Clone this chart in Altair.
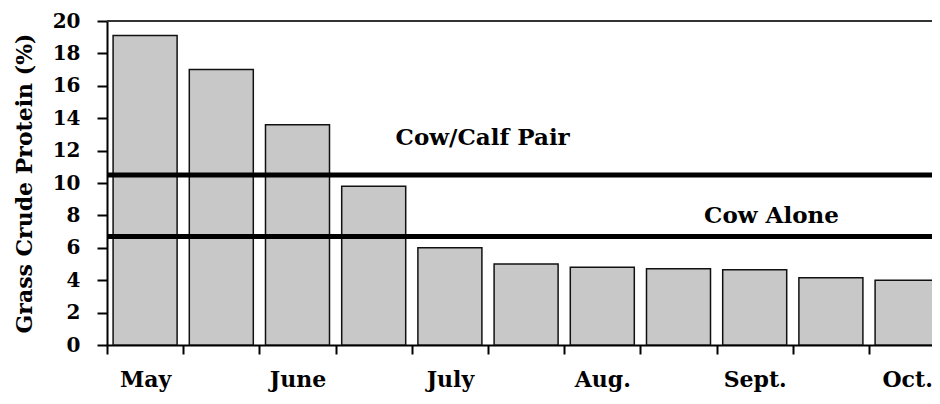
import altair as alt
import pandas as pd

# ---- data ----
periods = list(range(11))
protein = [19.1, 17.0, 13.6, 9.8, 6.0, 5.0, 4.8, 4.7, 4.65, 4.15, 4.0]
month_names = ["May", "June", "July", "Aug.", "Sept.", "Oct."]
requirement_levels = [10.5, 6.7]
requirement_labels = ["Cow/Calf Pair", "Cow Alone"]
y_ticks = list(range(0, 21, 2))
x_ticks = list(range(11))
y_title = "Grass Crude Protein (%)"

bars_df = pd.DataFrame({"period": periods, "protein": protein})
req_df = pd.DataFrame({"level": requirement_levels, "label": requirement_labels})
top_df = pd.DataFrame({"v": [y_ticks[-1]]})

FONT = "DejaVu Serif"
W = 825
H = 324
BAND = 76.2
X_MAX = W / BAND

label_arr = [month_names[i // 2] if i % 2 == 0 else "" for i in x_ticks]
label_expr = "[" + ",".join(f"'{s}'" for s in label_arr) + "][round(datum.value)]"

x_scale = alt.Scale(domain=[0, X_MAX], nice=False, zero=False)
y_scale = alt.Scale(domain=[0, 20], nice=False)

x_axis = alt.Axis(
    values=x_ticks, labelExpr=label_expr, labelOffset=BAND / 2, labelAlign="center",
    labelBaseline="alphabetic", labelPadding=32, tickSize=9, labelFontSize=22,
    labelFont=FONT, labelFontWeight="bold", labelColor="black",
    labelOverlap=False, labelFlush=False, grid=False,
    domainColor="black", domainWidth=2, tickColor="black", tickWidth=2,
)
y_axis = alt.Axis(
    values=y_ticks, tickSize=10, labelPadding=17, labelFontSize=20,
    labelFont=FONT, labelFontWeight="bold", labelColor="black",
    titleFont=FONT, titleFontSize=22, titleFontWeight="bold", titleColor="black",
    titlePadding=16, grid=False, labelOverlap=False, labelFlush=False,
    domainColor="black", domainWidth=2, tickColor="black", tickWidth=2,
)

bars = alt.Chart(bars_df).transform_calculate(
    x0="datum.period + 0.08", x1="datum.period + 0.92"
).mark_bar(fill="#c8c8c8", stroke="#111111", strokeWidth=1.5, clip=True).encode(
    x=alt.X("x0:Q", scale=x_scale, axis=x_axis, title=None),
    x2="x1:Q",
    y=alt.Y("protein:Q", scale=y_scale, axis=y_axis, title=y_title),
    y2=alt.datum(0),
)

top_line = alt.Chart(top_df).mark_rule(color="#333333", strokeWidth=2).encode(
    y=alt.Y("v:Q", scale=y_scale, axis=y_axis, title=y_title)
)

req_lines = alt.Chart(req_df).mark_rule(color="black", strokeWidth=5).encode(
    y=alt.Y("level:Q", scale=y_scale, axis=y_axis, title=y_title)
)

ann1 = alt.Chart(req_df).transform_filter(alt.datum.label == requirement_labels[0]).mark_text(
    font=FONT, fontSize=23, fontWeight="bold", color="black"
).encode(
    x=alt.XDatum(4.93, scale=x_scale, axis=x_axis, title=None),
    y=alt.YDatum(12.76, scale=y_scale, axis=y_axis, title=y_title),
    text="label:N",
)

ann2 = alt.Chart(req_df).transform_filter(alt.datum.label == requirement_labels[1]).mark_text(
    font=FONT, fontSize=23, fontWeight="bold", color="black"
).encode(
    x=alt.XDatum(8.72, scale=x_scale, axis=x_axis, title=None),
    y=alt.YDatum(7.98, scale=y_scale, axis=y_axis, title=y_title),
    text="label:N",
)

chart = alt.layer(bars, top_line, req_lines, ann1, ann2).properties(
    width=W, height=H,
    autosize=alt.AutoSizeParams(type="none"),
    padding={"left": 99, "top": 13, "right": 0, "bottom": 47},
    background="white",
).configure_view(stroke=None)

chart.save("out.html", embed_options={"renderer": "svg", "actions": False})
